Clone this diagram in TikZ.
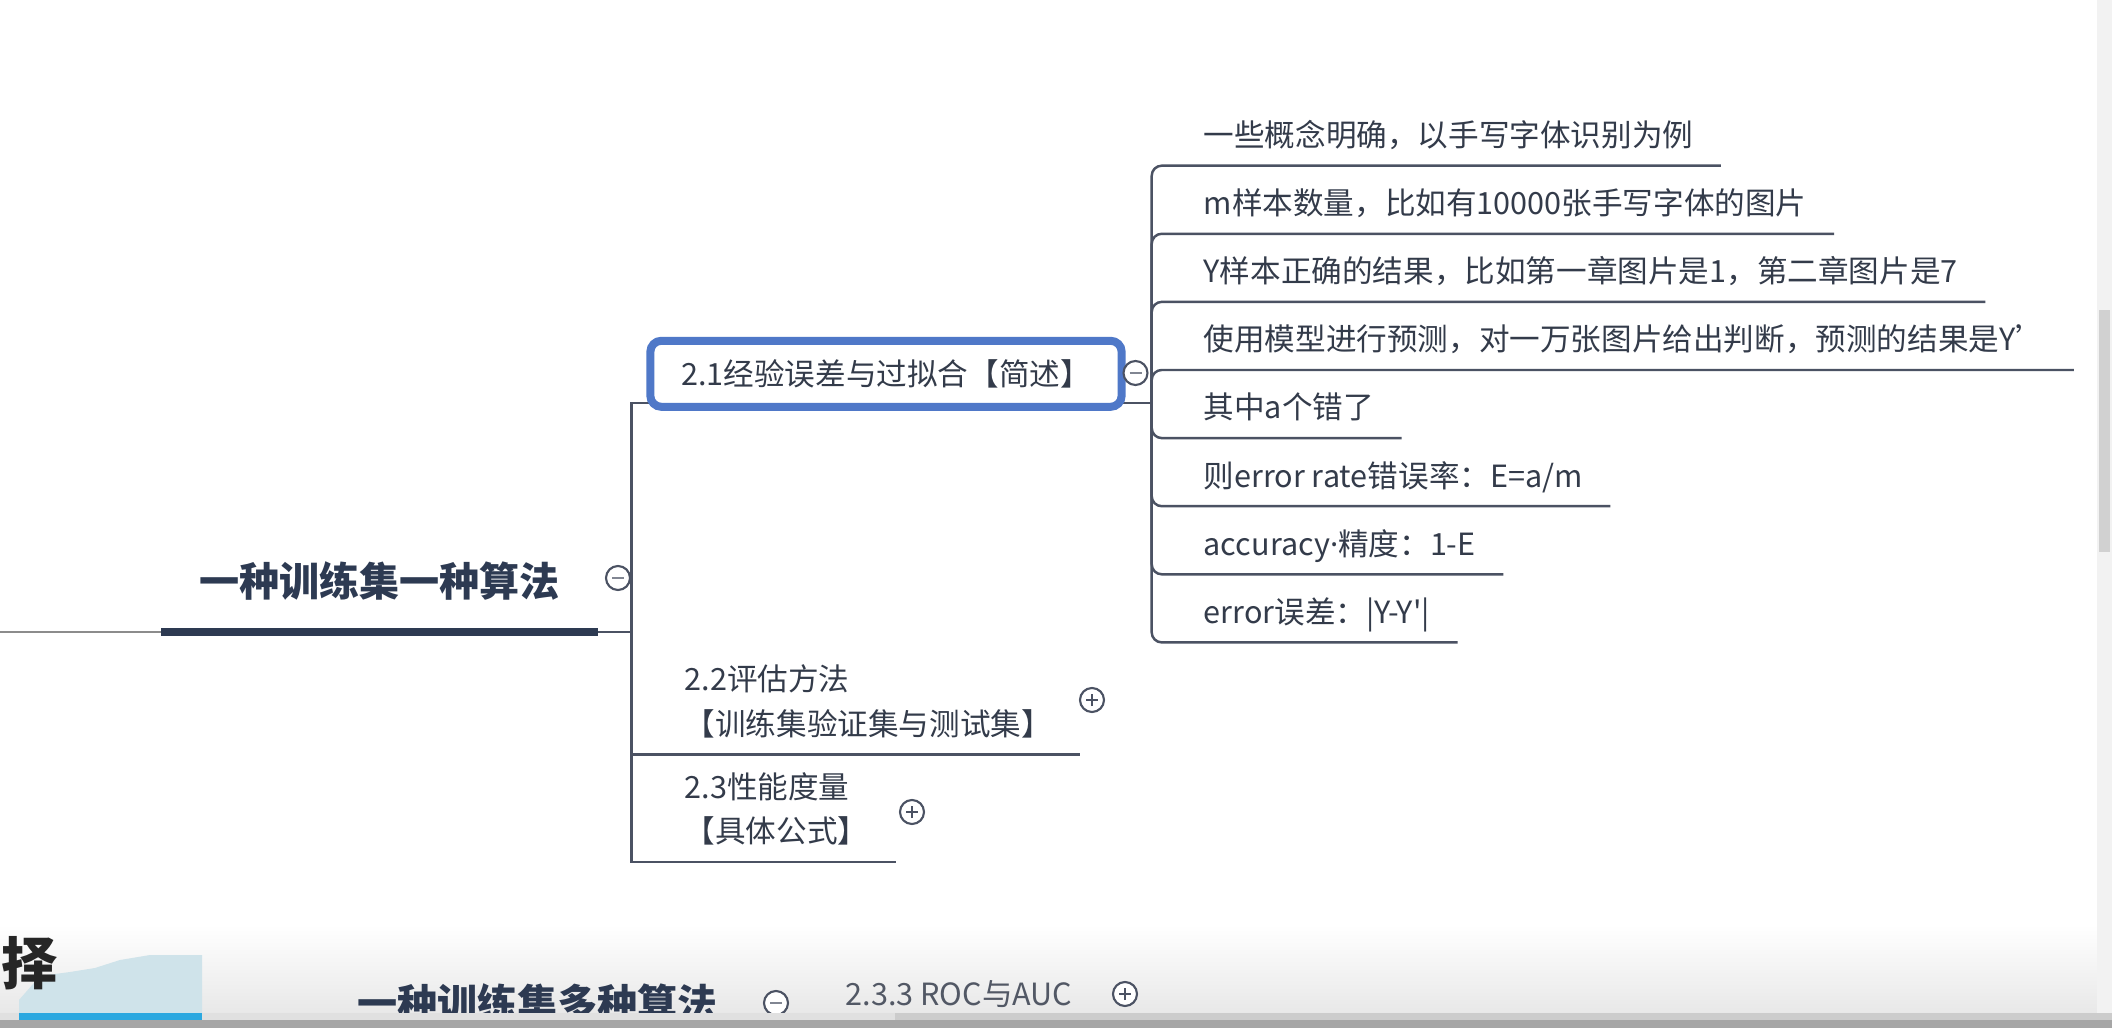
\documentclass[tikz,border=0pt]{standalone}
\usepackage{fontspec}
\setmainfont{Noto Sans CJK SC}
\newfontfamily\latinf{Noto Sans}
\definecolor{ink}{HTML}{333B4A}
\definecolor{stemc}{HTML}{4B5263}
\definecolor{barc}{HTML}{2D3A52}
\definecolor{selc}{HTML}{4F78C8}
\definecolor{progc}{HTML}{2BA8E0}
\definecolor{hillc}{HTML}{CFE3EA}

\begin{document}
\begin{tikzpicture}[
  x=0.01cm, y=-0.01cm,
  font=\fontsize{8.7}{12.7}\selectfont, text=ink,
  big/.style={font=\fontsize{11.4}{14}\selectfont\bfseries, text=barc},
  topic/.style={big, anchor=south, minimum width=4.35cm, inner ysep=0.29cm,
                text height=0.3cm, text depth=0.06cm},
  sel/.style={draw=selc, line width=0.08cm, rounded corners=0.11cm, fill=white,
              minimum width=4.71cm, minimum height=0.66cm},
  sub/.style={anchor=south west, align=left, inner xsep=0.27cm, inner ysep=0.124cm,
              text depth=0.06cm},
  leaf/.style={anchor=south west, inner xsep=0.27cm, inner ysep=0.124cm,
               text height=0.22cm, text depth=0.06cm},
  stem/.style={draw=stemc, line width=0.7pt},
  twig/.style={stem, rounded corners=0.1cm},
  bar/.style={draw=barc, line width=0.08cm},
  fold/.style={circle, draw=stemc, fill=white, line width=0.6pt, minimum size=0.24cm,
               inner sep=0pt,
               path picture={\draw[stemc!70, line width=0.5pt]
                 ([xshift=-0.06cm]path picture bounding box.center) --
                 ([xshift=0.06cm]path picture bounding box.center);}},
  unfold/.style={fold,
               path picture={\draw[stemc, line width=0.6pt]
                 ([xshift=-0.06cm]path picture bounding box.center) --
                 ([xshift=0.06cm]path picture bounding box.center)
                 ([yshift=-0.06cm]path picture bounding box.center) --
                 ([yshift=0.06cm]path picture bounding box.center);}}
]
  \useasboundingbox (0,0) rectangle (2112,1028);
  \clip (0,0) rectangle (2112,1028);
  \fill[white] (0,0) rectangle (2112,1028);
  \shade[top color=white, bottom color=black!9] (0,925) rectangle (2112,1013);
  \fill[black!5] (2097,0) rectangle (2112,1013);
  \fill[black!18] (2099,310) rectangle (2110,552);

  \coordinate (in) at (0,632);
  \coordinate (tk) at (631.7,632);
  \coordinate (j) at (1151.7,402.8);
  \node[topic] (root) at (379.5,632) {一种训练集一种算法};
  \draw[stem, draw=black!45, line width=0.5pt] (in) -- (root.south west);
  \draw[bar] (root.south west) -- (root.south east);
  \draw[stem] (root.south east) -- (tk);
  \draw[stem] (tk) |- (j);
  \node[fold] (rootf) at (618,578) {};

  \node[sel] (s21) at (886,373.8) {2.1经验误差与过拟合【简述】};
  \node[fold] (s21f) at (1135.5,373) {};
  \node[sub] (s22) at (657,754.3) {2.2评估方法\\【训练集验证集与测试集】};
  \node[unfold] (s22f) at (1092,700) {};
  \node[sub] (s23) at (657,862) {2.3性能度量\\【具体公式】};
  \node[unfold] (s23f) at (912,812) {};
  \draw[stem] (tk) |- (s22.south east);
  \draw[stem] (tk) |- (s23.south east);

  \node[leaf] (c1) at (1176,165.7) {一些概念明确，以手写字体识别为例};
  \node[leaf] (c2) at (1176,233.8) {m样本数量，比如有10000张手写字体的图片};
  \node[leaf] (c3) at (1176,301.9) {Y样本正确的结果，比如第一章图片是1，第二章图片是7};
  \node[leaf] (c4) at (1176,370.0) {使用模型进行预测，对一万张图片给出判断，预测的结果是Y’};
  \node[leaf] (c5) at (1176,438.1) {其中a个错了};
  \node[leaf] (c6) at (1176,506.2) {则error rate错误率：E=a/m};
  \node[leaf] (c7) at (1176,574.3) {accuracy{\latinf ·}精度：1-E};
  \node[leaf] (c8) at (1176,642.4) {error误差：|Y-Y\textquotesingle|};
  \draw[twig] (j) |- (c1.south east);
  \draw[twig] (j) |- (c2.south east);
  \draw[twig] (j) |- (c3.south east);
  \draw[twig] (j) |- (c4.south east);
  \draw[twig] (j) |- (c5.south east);
  \draw[twig] (j) |- (c6.south east);
  \draw[twig] (j) |- (c7.south east);
  \draw[twig] (j) |- (c8.south east);

  \fill[hillc] (19,1013) -- (19,1000) -- (40,976) -- (70,972) -- (95,968) -- (120,960)
    -- (150,955) -- (202,955) -- (202,1013) -- cycle;
  \node[font=\fontsize{16}{16}\selectfont\bfseries, text=black!85, inner sep=0pt] (ze) at (30,963) {择};
  \node[big] (s3) at (537.5,1003) {一种训练集多种算法};
  \node[fold] (s3f) at (776,1003) {};
  \node[anchor=west, inner xsep=0pt, text=ink!85] (roc) at (845,994) {2.3.3 ROC与AUC};
  \node[unfold] (rocf) at (1125,994) {};

  \fill[black!12] (0,1013) rectangle (2112,1020);
  \fill[black!20] (895,1013) rectangle (2112,1020);
  \fill[progc] (19,1013) rectangle (202,1020);
  \fill[black!35] (0,1020) rectangle (2112,1028);
\end{tikzpicture}
\end{document}
